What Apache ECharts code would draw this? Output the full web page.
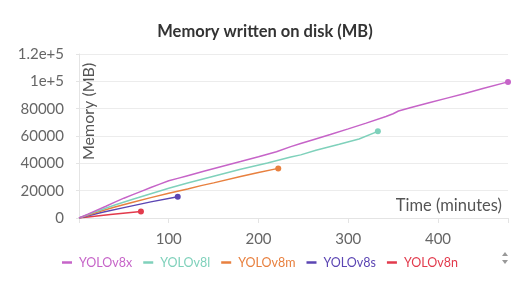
<!DOCTYPE html>
<html><head><meta charset="utf-8">
<script src="https://cdn.jsdelivr.net/npm/echarts@6/dist/echarts.min.js"></script>
<style>html,body{margin:0;padding:0;background:#fff}#c{width:530px;height:281px}</style>
</head><body><div id="c"></div>
<script>
const seriesNames = ['YOLOv8x', 'YOLOv8l', 'YOLOv8m', 'YOLOv8s', 'YOLOv8n'];
const seriesColors = ['#c664c8', '#7fd1bb', '#e8803f', '#5b45b3', '#e23a4c'];
const yTicks = [0, 20000, 40000, 60000, 80000, 100000, 120000];
const yTickLabels = ['0', '20000', '40000', '60000', '80000', '1e+5', '1.2e+5'];
const xTicks = [100, 200, 300, 400];

const v8x = [[0,0],[10,2800],[20,5800],[30,8600],[40,11600],[50,14500],[60,17100],[70,19700],[80,22300],[90,24800],[100,27200],[110,29000],[120,30800],[140,34400],[160,37900],[180,41300],[200,44800],[220,48500],[236,52200],[247,54500],[260,57100],[280,61100],[300,65200],[320,69400],[342,74300],[350,76300],[356,78300],[370,80800],[390,84300],[410,87700],[430,91100],[450,94700],[478,99600]];
const v8l = [[0,0],[20,5000],[40,9500],[60,13700],[80,17800],[100,21700],[121,25600],[150,30600],[180,35600],[210,40300],[236,44600],[247,46200],[264,49600],[290,53900],[312,57800],[333,63400]];
const v8m = [[0,0],[20,4200],[40,8000],[60,11500],[80,14900],[100,18100],[121,21200],[136,23700],[150,25700],[180,30300],[200,33300],[222,36300]];
const v8s = [[0,0],[25,4000],[50,7600],[80,11800],[110,15600]];
const v8n = [[0,0],[35,2500],[69,4700]];
const allData = [v8x, v8l, v8m, v8s, v8n];

const chart = echarts.init(document.getElementById('c'), null, {renderer: 'canvas'});
const font = 'Lato, "Noto Sans", sans-serif';

chart.setOption({
  animation: false,
  textStyle: {fontFamily: font},
  title: {
    text: 'Memory written on disk (MB)', left: 'center', top: 18,
    textStyle: {fontSize: 16.5, fontWeight: 'bold', color: '#333', fontFamily: font}
  },
  grid: {left: 79, right: 22, top: 54, bottom: 63},
  legend: {
    left: 57, top: 251, itemWidth: 10, itemHeight: 2.5, itemGap: 11, icon: 'rect',
    textStyle: {fontSize: 12.5, fontFamily: font, padding: [0,0,0,2]},
    data: seriesNames.map((n, i) => ({name: n, textStyle: {color: seriesColors[i]}}))
  },
  xAxis: {
    type: 'value', min: 0, max: 'dataMax', interval: 100,
    axisLine: {show: true, lineStyle: {color: '#e4e4e4'}},
    axisTick: {show: true, length: 5, lineStyle: {color: '#e4e4e4'}},
    splitLine: {show: false},
    axisLabel: {
      fontSize: 15, color: '#666', margin: 14, fontFamily: font,
      formatter: v => xTicks.includes(v) ? String(v) : ''
    }
  },
  yAxis: {
    type: 'value', min: 0, max: 120000, interval: 20000,
    axisLine: {show: true, lineStyle: {color: '#e4e4e4'}},
    axisTick: {show: true, length: 3, lineStyle: {color: '#e4e4e4'}},
    splitLine: {show: true, lineStyle: {color: '#ececec'}},
    axisLabel: {
      fontSize: 15, color: '#666', margin: 15, fontFamily: font,
      formatter: v => { const k = yTicks.indexOf(v); return k >= 0 ? yTickLabels[k] : ''; }
    }
  },
  graphic: [
    {type: 'text', x: 502, y: 197, style: {text: 'Time (minutes)', fill: '#555', font: '16.5px ' + font, textAlign: 'right', textVerticalAlign: 'top'}},
    {type: 'text', x: 81, y: 160, rotation: Math.PI / 2, style: {text: 'Memory (MB)', fill: '#555', font: '16px ' + font, textAlign: 'left', textVerticalAlign: 'top'}},
    {type: 'polygon', shape: {points: [[502, 256], [508, 256], [505, 252]]}, style: {fill: '#999'}},
    {type: 'polygon', shape: {points: [[502, 260], [508, 260], [505, 264]]}, style: {fill: '#999'}}
  ],
  series: seriesNames.map((n, i) => ({
    name: n, type: 'line', data: allData[i], color: seriesColors[i],
    showSymbol: true, symbol: 'circle',
    symbolSize: (val, p) => p.dataIndex === allData[i].length - 1 ? 6 : 0,
    lineStyle: {width: 1.5}, z: 10 - i
  }))
});
</script></body></html>
